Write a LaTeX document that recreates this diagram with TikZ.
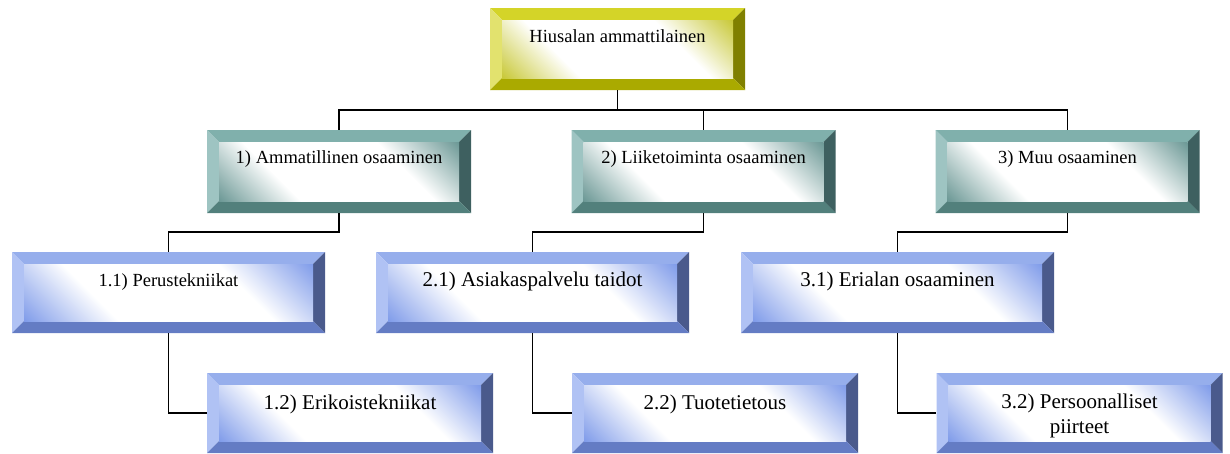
\documentclass[tikz,border=0pt]{standalone}
\usepackage{fontspec}
\setmainfont{Liberation Serif}

\definecolor{yelTop}{RGB}{212,212,40}
\definecolor{yelLeft}{RGB}{226,226,110}
\definecolor{yelRight}{RGB}{128,128,0}
\definecolor{yelBot}{RGB}{170,170,0}
\definecolor{yelTint}{RGB}{196,196,40}
\definecolor{tealTop}{RGB}{128,176,172}
\definecolor{tealLeft}{RGB}{158,196,194}
\definecolor{tealRight}{RGB}{62,96,96}
\definecolor{tealBot}{RGB}{82,128,124}
\definecolor{tealTint}{RGB}{96,144,141}
\definecolor{bluTop}{RGB}{150,174,236}
\definecolor{bluLeft}{RGB}{176,194,244}
\definecolor{bluRight}{RGB}{74,90,140}
\definecolor{bluBot}{RGB}{100,124,196}
\definecolor{bluTint}{RGB}{118,148,232}
\colorlet{bvtint}{white}

\pgfdeclareverticalshading[bvtint]{bevelface}{100bp}{color(0bp)=(bvtint); color(13bp)=(bvtint);
    color(34bp)=(white); color(66bp)=(white); color(87bp)=(bvtint); color(100bp)=(bvtint)}

\tikzset{
    bevel/.style n args={5}{inner sep=0pt, path picture={
        \fill[#1] (path picture bounding box.north west) -- (path picture bounding box.north east)
            -- ([shift={(-12pt,-12pt)}]path picture bounding box.north east)
            -- ([shift={(12pt,-12pt)}]path picture bounding box.north west) -- cycle;
        \fill[#2] (path picture bounding box.north west) -- ([shift={(12pt,-12pt)}]path picture bounding box.north west)
            -- ([shift={(12pt,12pt)}]path picture bounding box.south west)
            -- (path picture bounding box.south west) -- cycle;
        \fill[#3] (path picture bounding box.north east) -- (path picture bounding box.south east)
            -- ([shift={(-12pt,12pt)}]path picture bounding box.south east)
            -- ([shift={(-12pt,-12pt)}]path picture bounding box.north east) -- cycle;
        \fill[#4] (path picture bounding box.south west) -- ([shift={(12pt,12pt)}]path picture bounding box.south west)
            -- ([shift={(-12pt,12pt)}]path picture bounding box.south east)
            -- (path picture bounding box.south east) -- cycle;
        \colorlet{bvtint}{#5}
        \shade[shading=bevelface, shading angle=-45]
            ([shift={(12pt,-12pt)}]path picture bounding box.north west)
            rectangle ([shift={(-12pt,12pt)}]path picture bounding box.south east);
    }},
    yellowbox/.style={bevel={yelTop}{yelLeft}{yelRight}{yelBot}{yelTint}},
    tealbox/.style={bevel={tealTop}{tealLeft}{tealRight}{tealBot}{tealTint}},
    bluebox/.style={bevel={bluTop}{bluLeft}{bluRight}{bluBot}{bluTint}},
    smalltext/.style={font=\fontsize{18.5}{22}\selectfont},
    largetext/.style={font=\fontsize{21}{25}\selectfont},
    rootrow/.style={yellowbox, smalltext, minimum width=255pt, minimum height=82pt, text height=34pt, text depth=48pt},
    arearow/.style={tealbox, smalltext, minimum width=264pt, minimum height=83pt, text height=33pt, text depth=50pt},
    skillrow/.style={bluebox, minimum width=313pt, minimum height=81pt, text height=34pt, text depth=47pt},
    subrow/.style={bluebox, largetext, minimum width=286pt, minimum height=80pt, text height=36pt, text depth=44pt},
    link/.style={draw=black, line width=1.6pt}
}

\begin{document}
\begin{tikzpicture}[x=1pt,y=-1pt]
                \useasboundingbox (0,0) rectangle (1230,453);

                \begin{scope}
                    \node[rootrow] (H) at (617.5,49) {Hiusalan ammattilainen};
                    \node[arearow] (A1) at (339,171.5) {1) Ammatillinen osaaminen};
                    \node[arearow] (A2) at (703.5,171.5) {2) Liiketoiminta osaaminen};
                    \node[arearow] (A3) at (1067.5,171.5) {3) Muu osaaminen};
                    \node[skillrow, smalltext] (S11) at (168.5,292.5) {1.1) Perustekniikat};
                    \node[skillrow, largetext] (S21) at (532.5,292.5) {2.1) Asiakaspalvelu taidot};
                    \node[skillrow, largetext] (S31) at (897.5,292.5) {3.1) Erialan osaaminen};
                    \node[subrow] (S12) at (350,413) {1.2) Erikoistekniikat};
                    \node[subrow] (S22) at (715,413) {2.2) Tuotetietous};
                    \node[subrow, align=center, text height=60pt, text depth=20pt] (S32) at (1079.5,413) {3.2) Persoonalliset\\piirteet};
                \end{scope}

                \begin{scope}[every path/.style={link}]
                    \draw (H.south) -- ++(0,20) -| (A1.north);
                    \draw (H.south) -- ++(0,20) -| (A2.north);
                    \draw (H.south) -- ++(0,20) -| (A3.north);
                    \draw (A1.south) -- ++(0,19) -| (S11.north);
                    \draw (A2.south) -- ++(0,19) -| (S21.north);
                    \draw (A3.south) -- ++(0,19) -| (S31.north);
                    \draw (S11.south) |- (S12.west);
                    \draw (S21.south) |- (S22.west);
                    \draw (S31.south) |- (S32.west);
                \end{scope}
            \end{tikzpicture}
\end{document}
